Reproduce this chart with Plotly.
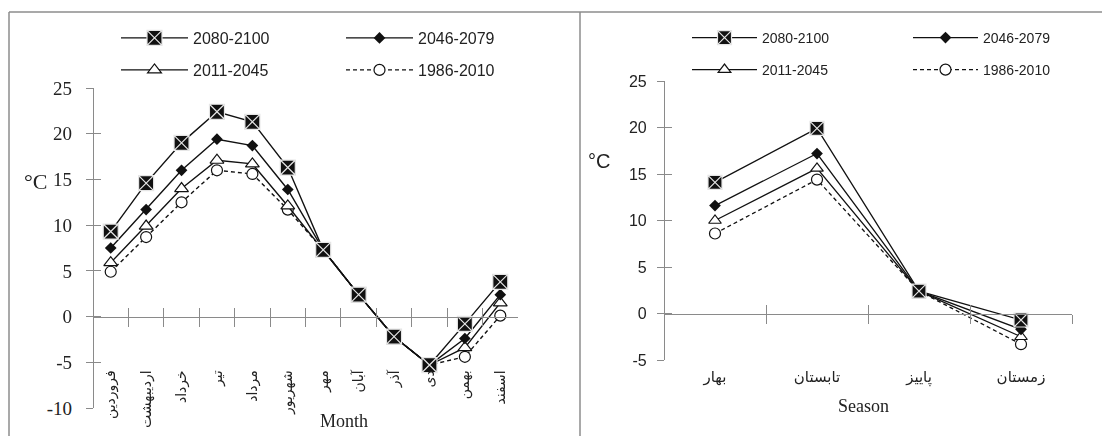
import plotly.graph_objects as go

# page body has an 8px margin: build the figure 8px smaller and place
# everything in reference-pixel coordinates shifted by that margin
OFF = 8
W, H = 1110 - OFF, 436 - OFF

months = ["فروردین", "اردیبهشت", "خرداد", "تیر", "مرداد", "شهریور",
          "مهر", "آبان", "آذر", "دی", "بهمن", "اسفند"]
seasons = ["بهار", "تابستان", "پاییز", "زمستان"]
periods = ["2080-2100", "2046-2079", "2011-2045", "1986-2010"]

month_2080 = [9.3, 14.6, 19.0, 22.4, 21.3, 16.3, 7.3, 2.4, -2.2, -5.3, -0.8, 3.8]
month_2046 = [7.5, 11.7, 16.0, 19.4, 18.7, 13.9, 7.3, 2.4, -2.2, -5.3, -2.4, 2.4]
month_2011 = [5.9, 9.9, 14.0, 17.1, 16.7, 12.1, 7.3, 2.4, -2.2, -5.3, -3.4, 1.5]
month_1986 = [4.9, 8.7, 12.5, 16.0, 15.6, 11.7, 7.3, 2.4, -2.2, -5.3, -4.4, 0.1]

season_2080 = [14.1, 19.9, 2.4, -0.7]
season_2046 = [11.6, 17.2, 2.4, -1.7]
season_2011 = [10.0, 15.6, 2.4, -2.5]
season_1986 = [8.6, 14.4, 2.4, -3.3]

left_ticks = [-10, -5, 0, 5, 10, 15, 20, 25]
left_ticktext = ["-10", "-5", "0", "5", "10", "15", "20", "25"]
right_ticks = [-5, 0, 5, 10, 15, 20, 25]
right_ticktext = ["-5", "0", "5", "10", "15", "20", "25"]

month_series = [month_2080, month_2046, month_2011, month_1986]
season_series = [season_2080, season_2046, season_2011, season_1986]

SERIF = "Liberation Serif, DejaVu Serif, serif"
SANS = "Liberation Sans, DejaVu Sans, sans-serif"
ARAB = "Liberation Serif, DejaVu Sans, serif"
INK = "#111111"
AX = "#8a8a8a"


def px_x(p):
    return (p - OFF) / W


def px_y(p):
    return 1 - (p - OFF) / H


styles = [
    dict(symbol="square-x", color="#111111", line=dict(color="#e6e6e6", width=1.2), dash="solid"),
    dict(symbol="diamond", color="#111111", line=dict(color="#111111", width=0), dash="solid"),
    dict(symbol="triangle-up", color="white", line=dict(color="#111111", width=1.2), dash="solid"),
    dict(symbol="circle", color="white", line=dict(color="#111111", width=1.2), dash="4px,3px"),
]
sizes_left = [15, 9, 12, 11]
sizes_right = [14, 9, 11, 11]

fig = go.Figure()

order = [3, 2, 1, 0]
for i in order:
    st = styles[i]
    fig.add_trace(go.Scatter(
        x=months, y=month_series[i], name=periods[i], mode="lines+markers",
        xaxis="x", yaxis="y",
        line=dict(color=INK, width=1.4, dash=st["dash"]),
        marker=dict(symbol=st["symbol"], size=sizes_left[i], color=st["color"], line=st["line"]),
        legend="legend" if i == 0 else f"legend{i + 1}",
        hoverinfo="skip",
    ))
for i in order:
    st = styles[i]
    fig.add_trace(go.Scatter(
        x=seasons, y=season_series[i], name=periods[i], mode="lines+markers",
        xaxis="x2", yaxis="y2",
        line=dict(color=INK, width=1.3, dash=st["dash"]),
        marker=dict(symbol=st["symbol"], size=sizes_right[i], color=st["color"], line=st["line"]),
        legend=f"legend{i + 5}",
        hoverinfo="skip",
    ))

# invisible helpers carrying the inner half of the crossing tick marks
fig.add_trace(go.Scatter(x=months, y=month_2080, xaxis="x3", yaxis="y3", mode="markers",
                         opacity=0, showlegend=False, hoverinfo="skip"))
fig.add_trace(go.Scatter(x=seasons, y=season_2080, xaxis="x4", yaxis="y4", mode="markers",
                         opacity=0, showlegend=False, hoverinfo="skip"))

L_xdom = [px_x(93), px_x(518)]
L_ydom = [px_y(408), px_y(88)]
L_yr = [-10, 25]
R_xdom = [px_x(664), px_x(1072)]
R_ydom = [px_y(360), px_y(81)]
R_yr = [-5, 25]


def zero_pos(dom, rng):
    return dom[0] + (0 - rng[0]) / (rng[1] - rng[0]) * (dom[1] - dom[0])


L_zero = zero_pos(L_ydom, L_yr)
R_zero = zero_pos(R_ydom, R_yr)

common_x = dict(type="category", showgrid=False, zeroline=False, showline=True,
                linecolor=AX, linewidth=1.2, tickcolor=AX, tickwidth=1.2,
                tickson="boundaries", anchor="free", categoryorder="array", automargin=False)
common_y = dict(showgrid=False, zeroline=False, showline=True, linecolor=AX,
                linewidth=1.2, tickcolor=AX, tickwidth=1.2, automargin=False,
                tickmode="array", anchor="free")

fig.update_layout(
    width=W, height=H, autosize=False, margin=dict(l=0, r=0, t=0, b=0, pad=0),
    paper_bgcolor="white", plot_bgcolor="rgba(0,0,0,0)",
    xaxis=dict(common_x, domain=L_xdom, range=[-0.5, 11.5], categoryarray=months,
               position=L_zero, ticks="outside", ticklen=9, tickangle=-90,
               ticklabelstandoff=47, tickfont=dict(family=ARAB, size=14, color="#222")),
    yaxis=dict(common_y, domain=L_ydom, range=L_yr, position=L_xdom[0],
               tickvals=left_ticks, ticktext=left_ticktext, ticks="outside", ticklen=7,
               ticklabelstandoff=10, tickfont=dict(family=SERIF, size=19, color="#222")),
    xaxis3=dict(common_x, overlaying="x", domain=L_xdom, range=[-0.5, 11.5], categoryarray=months,
                position=L_zero, ticks="inside", ticklen=9, showline=False, showticklabels=False),
    yaxis3=dict(common_y, overlaying="y", domain=L_ydom, range=L_yr, position=L_xdom[0],
                tickvals=left_ticks, ticks="inside", ticklen=7, showline=False,
                showticklabels=False),
    xaxis2=dict(common_x, domain=R_xdom, range=[-0.5, 3.5], categoryarray=seasons,
                position=R_zero, ticks="outside", ticklen=9,
                ticklabelstandoff=49, tickfont=dict(family=ARAB, size=15, color="#222")),
    yaxis2=dict(common_y, domain=R_ydom, range=R_yr, position=R_xdom[0],
                tickvals=right_ticks, ticktext=right_ticktext, ticks="outside", ticklen=7,
                ticklabelstandoff=7, tickfont=dict(family=SANS, size=16, color="#222")),
    xaxis4=dict(common_x, overlaying="x2", domain=R_xdom, range=[-0.5, 3.5], categoryarray=seasons,
                position=R_zero, ticks="inside", ticklen=9, showline=False, showticklabels=False),
    yaxis4=dict(common_y, overlaying="y2", domain=R_ydom, range=R_yr, position=R_xdom[0],
                tickvals=right_ticks, ticks="inside", ticklen=7, showline=False,
                showticklabels=False),
)

# one legend per entry: two columns, two rows in each panel
leg_font_L = dict(family=SANS, size=16, color="#222")
leg_font_R = dict(family=SANS, size=14, color="#222")
left_pos = [(116, 38), (341, 38), (116, 70), (341, 70)]
right_pos = [(687, 38), (908, 38), (687, 70), (908, 70)]
for i in range(4):
    name = "legend" if i == 0 else f"legend{i + 1}"
    fig.layout[name] = dict(x=px_x(left_pos[i][0]), y=px_y(left_pos[i][1]), xanchor="left",
                            yanchor="middle", bgcolor="rgba(0,0,0,0)", font=leg_font_L,
                            itemwidth=67)
    fig.layout[f"legend{i + 5}"] = dict(x=px_x(right_pos[i][0]), y=px_y(right_pos[i][1]),
                                        xanchor="left", yanchor="middle",
                                        bgcolor="rgba(0,0,0,0)", font=leg_font_R, itemwidth=65)

ann = dict(xref="paper", yref="paper", showarrow=False, xanchor="center", yanchor="middle")
fig.add_annotation(ann, text="°C", x=px_x(35), y=px_y(181),
                   font=dict(family=SERIF, size=22, color="#222"))
fig.add_annotation(ann, text="°C", x=px_x(599), y=px_y(161),
                   font=dict(family=SANS, size=20, color="#222"))
fig.add_annotation(ann, text="Month", x=px_x(344), y=px_y(421),
                   font=dict(family=SERIF, size=18, color="#222"))
fig.add_annotation(ann, text="Season", x=px_x(863), y=px_y(406),
                   font=dict(family=SERIF, size=18, color="#222"))

frame = dict(color="#8c8c8c", width=1.5)
fig.add_shape(type="line", xref="paper", yref="paper", x0=px_x(9), x1=1, y0=px_y(12), y1=px_y(12), line=frame)
fig.add_shape(type="line", xref="paper", yref="paper", x0=px_x(9), x1=px_x(9), y0=px_y(12), y1=0, line=frame)
fig.add_shape(type="line", xref="paper", yref="paper", x0=px_x(580), x1=px_x(580), y0=px_y(12), y1=0, line=frame)

fig.write_html("out.html")
